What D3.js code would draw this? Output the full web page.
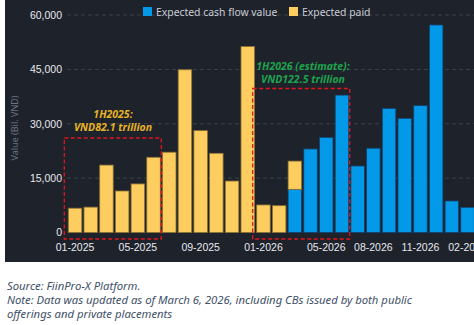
<!DOCTYPE html>
<html>
<head>
<meta charset="utf-8">
<script src="https://cdn.jsdelivr.net/npm/d3@7"></script>
<style>
  body { margin: 0; background: #fff; }
  svg { display: block; font-family: "Noto Sans", sans-serif; }
</style>
</head>
<body>
<script>
"use strict";

// months shown on the x axis
var months = ["01-2025","02-2025","03-2025","04-2025","05-2025","06-2025","07-2025","08-2025","09-2025","10-2025","11-2025","12-2025",
  "01-2026","02-2026","03-2026","04-2026","05-2026","06-2026","07-2026","08-2026","09-2026","10-2026","11-2026","12-2026",
  "01-2027","02-2027"];
// expected paid (bil. VND)
var paid = [6700, 7000, 18600, 11450, 13400, 20750, 22150, 44900, 28100, 21850, 14200, 51300,
  7600, 7400, 7800, 0, 0, 0, 0, 0, 0, 0, 0, 0, 0, 0];
// expected cash flow value (bil. VND)
var cashflow = [0, 0, 0, 0, 0, 0, 0, 0, 0, 0, 0, 0,
  0, 0, 11900, 23050, 26250, 37900, 18350, 23250, 34250, 31500, 35000, 57250, 8700, 6950];
var tickMonths = ["01-2025","05-2025","09-2025","01-2026","05-2026","08-2026","11-2026","02-2027"];
var yTicks = [0, 15000, 30000, 45000, 60000];

var W = 474, H = 325;
var svg = d3.select("body").append("svg").attr("width", W).attr("height", H);

// dark panel
svg.append("rect").attr("x", 5).attr("y", 0).attr("width", W - 5).attr("height", 262).attr("fill", "#1e222b");

var x = d3.scaleBand().domain(months).range([67.2, 67.2 + 26 * 15.7]).paddingInner(0.14).paddingOuter(0.07);
var y = d3.scaleLinear().domain([0, 60000]).range([232.5, 15]);

// grid
svg.append("g").selectAll("line").data(yTicks.slice(1)).join("line")
  .attr("x1", 67).attr("x2", W).attr("y1", d => y(d)).attr("y2", d => y(d))
  .attr("stroke", "#3d424d").attr("stroke-dasharray", "4,3");

// y axis
var yAxis = svg.append("g").attr("transform", "translate(62,0)")
  .call(d3.axisLeft(y).tickValues(yTicks).tickSize(0).tickPadding(0).tickFormat(d3.format(",")));
yAxis.select(".domain").remove();
yAxis.selectAll("text").attr("fill", "#e6e8ee").attr("font-size", 10.5);

// x axis
var xAxis = svg.append("g").attr("transform", "translate(0,240)")
  .call(d3.axisBottom(x).tickValues(tickMonths).tickSize(0).tickPadding(4));
xAxis.select(".domain").remove();
xAxis.selectAll("text").attr("fill", "#e6e8ee").attr("font-size", 10.5);

// bars
var stack = months.map((m, i) => ({ m: m, c: cashflow[i], p: paid[i] }));
svg.append("g").selectAll("rect").data(stack.filter(d => d.c > 0)).join("rect")
  .attr("x", d => x(d.m)).attr("width", x.bandwidth())
  .attr("y", d => y(d.c)).attr("height", d => y(0) - y(d.c))
  .attr("fill", "#0299e8").attr("stroke", "#14406a").attr("stroke-width", 0.8);
svg.append("g").selectAll("rect").data(stack.filter(d => d.p > 0)).join("rect")
  .attr("x", d => x(d.m)).attr("width", x.bandwidth())
  .attr("y", d => y(d.c + d.p)).attr("height", d => y(d.c) - y(d.c + d.p))
  .attr("fill", "#fdcd5f").attr("stroke", "#8a7033").attr("stroke-width", 0.8);

// y title
svg.append("text").attr("transform", "translate(18,128) rotate(-90)")
  .attr("text-anchor", "middle").attr("fill", "#6d7380").attr("font-size", 9)
  .text("Value (Bil. VND)");

// legend
var legend = [["Expected cash flow value", "#0299e8", 143], ["Expected paid", "#fdcd5f", 289]];
legend.forEach(l => {
  svg.append("rect").attr("x", l[2]).attr("y", 7).attr("width", 9).attr("height", 9).attr("fill", l[1]);
  svg.append("text").attr("x", l[2] + 13).attr("y", 15.5).attr("fill", "#c9ccd4").attr("font-size", 10.4).text(l[0]);
});

// annotation boxes
function box(m0, m1, y0) {
  var x0 = x(m0) - 4, x1 = x(m1) + x.bandwidth() + 1;
  svg.append("rect").attr("x", x0).attr("y", y0).attr("width", x1 - x0).attr("height", 239 - y0)
    .attr("fill", "none").attr("stroke", "#e0161c").attr("stroke-width", 1.3).attr("stroke-dasharray", "4,2.5");
}
box("01-2025", "06-2025", 138);
box("01-2026", "06-2026", 88.5);

function note(lines, cx, cy, color) {
  lines.forEach((t, i) => {
    svg.append("text").attr("x", cx).attr("y", cy + i * 12.5).attr("text-anchor", "middle")
      .attr("fill", color).attr("font-size", 10.5).attr("font-weight", "bold").attr("font-style", "italic").text(t);
  });
}
note(["1H2025:", "VND82.1 trillion"], 113, 118, "#e6b325");
note(["1H2026 (estimate):", "VND122.5 trillion"], 303, 70, "#1da34c");

// footer
var foot = ["Source: FiinPro-X Platform.",
  "Note: Data was updated as of March 6, 2026, including CBs issued by both public",
  "offerings and private placements"];
svg.append("g").selectAll("text").data(foot).join("text")
  .attr("x", 7).attr("y", (d, i) => 290 + i * 14)
  .attr("fill", "#3e5068").attr("font-size", 11.3).attr("font-style", "italic").text(d => d);
</script>
</body>
</html>
